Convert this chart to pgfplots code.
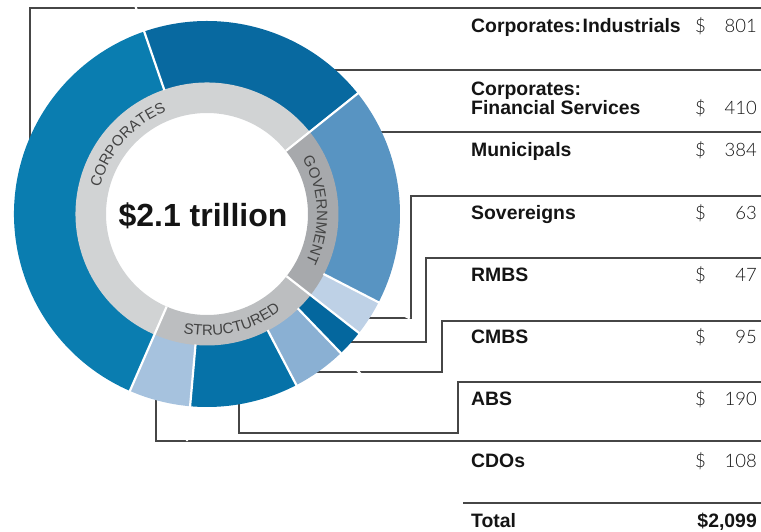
\documentclass[border=0pt]{standalone}
\usepackage{pgfplots}
\pgfplotsset{compat=1.18}
\usepackage{pgfplotstable}
\usepackage{fontspec}
\setmainfont{Liberation Sans}
\newfontfamily\lightfont{Lato Light}
\usetikzlibrary{decorations.text}

% ring colours
\definecolor{ind}{RGB}{10,125,176}
\definecolor{fs}{RGB}{8,105,160}
\definecolor{muni}{RGB}{88,148,194}
\definecolor{sov}{RGB}{190,209,230}
\definecolor{rmbs}{RGB}{4,103,158}
\definecolor{cmbs}{RGB}{138,176,211}
\definecolor{abs}{RGB}{6,114,168}
\definecolor{cdo}{RGB}{166,194,222}
\definecolor{corp}{RGB}{209,211,212}
\definecolor{gov}{RGB}{167,169,172}
\definecolor{str}{RGB}{188,190,192}
\definecolor{lead}{RGB}{70,70,70}
\definecolor{txt}{RGB}{20,20,20}

% segments, clockwise from the top; rin = inner end of the white rule after the segment
\pgfplotstableread{
name value col rin
FinServ 410 fs 101
Munis 384 muni 131
Sov 63 sov 101
RMBS 47 rmbs 131
CMBS 95 cmbs 131
ABS 190 abs 131
CDOs 108 cdo 101
Industrials 801 ind 131
}\segs
% inner ring groups, clockwise starting after Financial Services
\pgfplotstableread{
name value col
Government 447 gov
Structured 440 str
Corporates 1211 corp
}\groups

\newcommand\lbl{\fontsize{19.4}{22}\selectfont\bfseries}
\newcommand\num{\lightfont\fontsize{18.5}{22}\selectfont}
\newcommand\curv{\fontsize{15}{18}\selectfont}

\begin{document}
\begin{tikzpicture}[every node/.style={inner sep=0pt}]
\begin{axis}[
  x=1pt, y=1pt,
  xmin=0, xmax=761, ymin=0, ymax=532,
  y dir=reverse,
  hide axis, clip=false,
]
\coordinate (bl) at (axis cs:0,532);
\coordinate (tr) at (axis cs:761,0);

% leader lines
\draw[lead, line width=1.2pt] (axis cs:30,140) -- (axis cs:30,8) -- (axis cs:761,8);
\draw[lead, line width=1.2pt] (axis cs:330,70) -- (axis cs:761,70);
\draw[lead, line width=1.2pt] (axis cs:376,132) -- (axis cs:761,132);
\draw[lead, line width=1.2pt] (axis cs:365,318) -- (axis cs:411,318) -- (axis cs:411,196) -- (axis cs:761,196);
\draw[lead, line width=1.2pt] (axis cs:348,342) -- (axis cs:426,342) -- (axis cs:426,258) -- (axis cs:761,258);
\draw[lead, line width=1.2pt] (axis cs:314,372) -- (axis cs:442,372) -- (axis cs:442,321) -- (axis cs:761,321);
\draw[lead, line width=1.2pt] (axis cs:239,400) -- (axis cs:239,433) -- (axis cs:458,433) -- (axis cs:458,382) -- (axis cs:761,382);
\draw[lead, line width=1.2pt] (axis cs:156,398) -- (axis cs:156,441) -- (axis cs:761,441);
\draw[lead, line width=1.2pt] (axis cs:463,503) -- (axis cs:761,503);

% total of the segments
\pgfmathsetmacro\tot{0}
\pgfplotsforeachungrouped \i in {0,...,7}{%
  \pgfplotstablegetelem{\i}{value}\of\segs
  \pgfmathsetmacro\tot{\tot+\pgfplotsretval}
}

% outer ring
\pgfmathsetmacro\cum{0}
\pgfplotsforeachungrouped \i in {0,...,7}{%
  \pgfplotstablegetelem{\i}{value}\of\segs \let\v\pgfplotsretval
  \pgfplotstablegetelem{\i}{col}\of\segs \let\c\pgfplotsretval
  \pgfmathsetmacro\aS{109-\cum/\tot*360}
  \pgfmathsetmacro\cum{\cum+\v}
  \pgfmathsetmacro\aE{109-\cum/\tot*360}
  \edef\temp{\noexpand\fill[\c] (axis cs:207,214) ++(\aS:193pt)
    arc[start angle=\aS, end angle=\aE, radius=193pt] -- ++(\aE:-62pt)
    arc[start angle=\aE, end angle=\aS, radius=131pt] -- cycle;}
  \temp
}

% inner ring
\pgfplotstablegetelem{0}{value}\of\segs
\pgfmathsetmacro\cum{\pgfplotsretval}
\pgfplotsforeachungrouped \i in {0,...,2}{%
  \pgfplotstablegetelem{\i}{value}\of\groups \let\v\pgfplotsretval
  \pgfplotstablegetelem{\i}{col}\of\groups \let\c\pgfplotsretval
  \pgfmathsetmacro\aS{109-\cum/\tot*360}
  \pgfmathsetmacro\cum{\cum+\v}
  \pgfmathsetmacro\aE{109-\cum/\tot*360}
  \edef\temp{\noexpand\fill[\c] (axis cs:207,214) ++(\aS:131.5pt)
    arc[start angle=\aS, end angle=\aE, radius=131.5pt] -- ++(\aE:-30.5pt)
    arc[start angle=\aE, end angle=\aS, radius=101pt] -- cycle;}
  \temp
}

% white rules between segments
\pgfmathsetmacro\cum{0}
\pgfplotsforeachungrouped \i in {0,...,7}{%
  \pgfplotstablegetelem{\i}{value}\of\segs \let\v\pgfplotsretval
  \pgfplotstablegetelem{\i}{rin}\of\segs \let\r\pgfplotsretval
  \pgfmathsetmacro\cum{\cum+\v}
  \pgfmathsetmacro\aE{109-\cum/\tot*360}
  \edef\temp{\noexpand\draw[white, line width=2.2pt] (axis cs:207,214) ++(\aE:\r pt) -- ++(\aE:97pt);}
  \temp
}

% curved group names
\path[decorate, decoration={text along path, text align=center,
  text color=txt!80, text={|\curv|CORPORATES}}]
  (axis cs:207,214) ++(175:110pt) arc[start angle=175, end angle=103, radius=110pt];
\path[decorate, decoration={text along path, text align=center,
  text color=txt!80, text={|\curv|GOVERNMENT}}]
  (axis cs:207,214) ++(38:110pt) arc[start angle=38, end angle=-34, radius=110pt];
\path[decorate, decoration={text along path, text align=center,
  text color=txt!80, text={|\curv|STRUCTURED}}]
  (axis cs:207,214) ++(-113:121.5pt) arc[start angle=-113, end angle=-41, radius=121.5pt];

\node[txt, font=\fontsize{32}{36}\selectfont\bfseries] at (axis cs:203,216) {\$2.1 trillion};

% table
\node[txt, anchor=base west, font=\lbl] at (axis cs:471,33) {Corporates:\hspace{1.5pt}Industrials};
\node[txt, anchor=base west, font=\lbl] at (axis cs:471,96) {Corporates:};
\node[txt, anchor=base west, font=\lbl] at (axis cs:471,115) {Financial Services};
\node[txt, anchor=base west, font=\lbl] at (axis cs:471,157) {Municipals};
\node[txt, anchor=base west, font=\lbl] at (axis cs:471,219) {Sovereigns};
\node[txt, anchor=base west, font=\lbl] at (axis cs:471,281) {RMBS};
\node[txt, anchor=base west, font=\lbl] at (axis cs:471,343) {CMBS};
\node[txt, anchor=base west, font=\lbl] at (axis cs:471,405) {ABS};
\node[txt, anchor=base west, font=\lbl] at (axis cs:471,467) {CDOs};
\node[txt, anchor=base west, font=\lbl] at (axis cs:471,527) {Total};

\foreach \yy/\vv in {33/801, 115/410, 157/384, 219/63, 281/47, 343/95, 405/190, 467/108}{
  \edef\temp{\noexpand\node[txt, anchor=base west, font=\noexpand\num] at (axis cs:695,\yy) {\noexpand\$};
    \noexpand\node[txt, anchor=base east, font=\noexpand\num] at (axis cs:757,\yy) {\vv};}
  \temp
}
\node[txt, anchor=base east, font=\lbl] at (axis cs:757,527) {\$2,099};
\end{axis}
\pgfresetboundingbox
\path (bl) rectangle (tr);
\end{tikzpicture}
\end{document}
